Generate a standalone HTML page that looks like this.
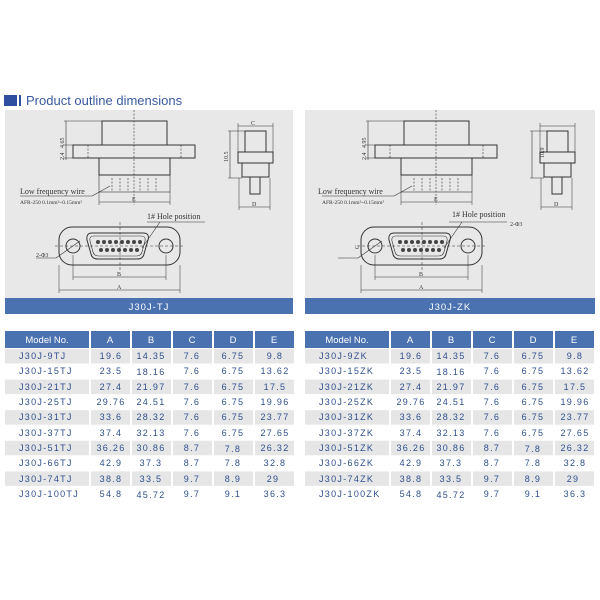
<!DOCTYPE html>
<html><head><meta charset="utf-8"><style>
html,body{margin:0;padding:0;background:#fff;width:600px;height:600px;overflow:hidden}
svg{display:block}
.t{font-family:"Liberation Sans",sans-serif;font-size:9px;fill:#2f4f8f;letter-spacing:1.3px}
.h{font-family:"Liberation Sans",sans-serif;font-size:9.5px;fill:#fff}
.d{font-family:"Liberation Serif",serif;fill:#333}
</style></head><body>
<svg width="600" height="600" viewBox="0 0 600 600" xmlns="http://www.w3.org/2000/svg">
<rect x="4" y="95" width="13" height="11" fill="#2e4fa0"/>
<rect x="19" y="95" width="2" height="11" fill="#2e4fa0"/>
<text x="26" y="105" font-family="Liberation Sans,sans-serif" font-size="13" fill="#3a5aa0">Product outline dimensions</text>

<defs>
<g id="dr" fill="none" stroke="#333" stroke-width="1">
  <rect x="102" y="121" width="65" height="24"/>
  <rect x="73" y="145" width="122" height="13"/>
  <rect x="99" y="158" width="71" height="17"/>
  <rect x="99" y="175" width="71" height="17" stroke-width="0.6"/>
  <g stroke-dasharray="2,1.5" stroke-width="0.6">
    <line x1="134" y1="110" x2="134" y2="205"/>
    <line x1="112" y1="178" x2="112" y2="192"/><line x1="120" y1="178" x2="120" y2="192"/>
    <line x1="128" y1="178" x2="128" y2="192"/><line x1="140" y1="178" x2="140" y2="192"/>
    <line x1="148" y1="178" x2="148" y2="192"/><line x1="156" y1="178" x2="156" y2="192"/>
    <line x1="88" y1="145" x2="88" y2="158"/><line x1="181" y1="145" x2="181" y2="158"/>
  </g>
  <line x1="66" y1="121" x2="66" y2="160" stroke-width="0.6"/>
  <line x1="64" y1="121" x2="102" y2="121" stroke-width="0.5"/>
  <line x1="64" y1="145" x2="73" y2="145" stroke-width="0.5"/>
  <line x1="64" y1="158" x2="73" y2="158" stroke-width="0.5"/>
  <line x1="99" y1="192" x2="99" y2="205" stroke-width="0.5"/>
  <line x1="170" y1="192" x2="170" y2="205" stroke-width="0.5"/>
  <line x1="99" y1="202" x2="170" y2="202" stroke-width="0.6"/>
  <line x1="20" y1="196" x2="92" y2="196" stroke-width="0.6"/>
  <line x1="92" y1="196" x2="110" y2="186" stroke-width="0.6"/>
  <rect x="245" y="131" width="21" height="21"/>
  <rect x="238" y="152" width="35" height="11"/>
  <rect x="242" y="163" width="27" height="14"/>
  <rect x="250" y="177" width="10" height="17"/>
  <line x1="238" y1="126" x2="273" y2="126" stroke-width="0.6"/>
  <line x1="238" y1="123" x2="238" y2="152" stroke-width="0.5"/>
  <line x1="273" y1="123" x2="273" y2="152" stroke-width="0.5"/>
  <line x1="230" y1="131" x2="230" y2="178" stroke-width="0.6"/>
  <line x1="228" y1="131" x2="245" y2="131" stroke-width="0.5"/>
  <line x1="228" y1="178" x2="242" y2="178" stroke-width="0.5"/>
  <line x1="239" y1="207" x2="270" y2="207" stroke-width="0.6"/>
  <line x1="239" y1="178" x2="239" y2="210" stroke-width="0.5"/>
  <line x1="270" y1="178" x2="270" y2="210" stroke-width="0.5"/>
  <rect x="59" y="227" width="121" height="38" rx="13"/>
  <path d="M92 233 H143 Q150 233 148 240 L144 254 Q143 259 137 259 H98 Q92 259 91 254 L87 240 Q86 233 92 233Z"/>
  <path d="M94 236 H141 Q146 236 145 241 L142 252 Q141 256 136 256 H99 Q94 256 93 252 L90 241 Q89 236 94 236Z" stroke-width="0.6"/>
  <circle cx="73" cy="246" r="7"/><circle cx="166" cy="246" r="7"/>
  <line x1="55" y1="246" x2="185" y2="246" stroke-dasharray="3,2" stroke-width="0.5"/>
  <line x1="120" y1="222" x2="120" y2="270" stroke-dasharray="3,2" stroke-width="0.5"/>
  <line x1="73" y1="255" x2="73" y2="280" stroke-width="0.5"/>
  <line x1="166" y1="255" x2="166" y2="280" stroke-width="0.5"/>
  <line x1="73" y1="277" x2="166" y2="277" stroke-width="0.6"/>
  <line x1="59" y1="265" x2="59" y2="293" stroke-width="0.5"/>
  <line x1="180" y1="265" x2="180" y2="293" stroke-width="0.5"/>
  <line x1="59" y1="290" x2="180" y2="290" stroke-width="0.6"/>
  <line x1="36" y1="258" x2="56" y2="258" stroke-width="0.6"/>
  <line x1="56" y1="258" x2="80" y2="241" stroke-width="0.6"/>
  <line x1="147" y1="222" x2="205" y2="222" stroke-width="0.6"/>
  <line x1="160" y1="222" x2="142" y2="248" stroke-width="0.6"/>
  <g fill="#444" stroke="none">
    <circle cx="98" cy="242" r="2"/><circle cx="104" cy="242" r="2"/><circle cx="110" cy="242" r="2"/><circle cx="116" cy="242" r="2"/><circle cx="122" cy="242" r="2"/><circle cx="128" cy="242" r="2"/><circle cx="134" cy="242" r="2"/><circle cx="140" cy="242" r="2"/>
    <circle cx="101" cy="250" r="2"/><circle cx="107" cy="250" r="2"/><circle cx="113" cy="250" r="2"/><circle cx="119" cy="250" r="2"/><circle cx="125" cy="250" r="2"/><circle cx="131" cy="250" r="2"/><circle cx="137" cy="250" r="2"/>
  </g>
</g>
</defs>

<rect x="5" y="110" width="288" height="188" fill="#e8e8e8"/>
<rect x="305" y="110" width="290" height="188" fill="#e8e8e8"/>
<use href="#dr"/>
<use href="#dr" x="302"/>
<g class="d" font-size="6">
<text x="20" y="194" font-size="8">Low frequency wire</text>
<text x="20" y="204" font-size="5.5">AFR-250  0.1mm²~0.15mm²</text>
<text x="147" y="219" font-size="8">1# Hole position</text>
<text x="36" y="257" font-size="6">2-Φ3</text>
<text x="132" y="201">E</text><text x="252" y="206">D</text><text x="251" y="125">C</text>
<text x="117" y="276">B</text><text x="117" y="289">A</text>
<text transform="translate(64,148) rotate(-90)">4.65</text>
<text transform="translate(64,160) rotate(-90)">2.4</text>
<text transform="translate(228,162) rotate(-90)">10.5</text>
<text x="318" y="194" font-size="8">Low frequency wire</text>
<text x="322" y="204" font-size="5.5">AFR-250  0.1mm²~0.15mm²</text>
<text x="452" y="217" font-size="8">1# Hole position</text>
<text x="510" y="226" font-size="6">2-Φ3</text>
<text x="434" y="201">E</text><text x="554" y="206">D</text>
<text x="419" y="276">B</text><text x="419" y="289">A</text>
<text transform="translate(366,148) rotate(-90)">4.95</text>
<text transform="translate(366,160) rotate(-90)">2.4</text>
<text transform="translate(544,158) rotate(-90)">10.9</text>
<text transform="translate(359,249) rotate(-90)">C</text>
</g>
<rect x="5" y="298" width="288" height="16" fill="#4a72b0"/>
<rect x="305" y="298" width="290" height="16" fill="#4a72b0"/>
<text x="149" y="310" text-anchor="middle" class="h" font-size="9.5" letter-spacing="1">J30J-TJ</text>
<text x="450" y="310" text-anchor="middle" class="h" font-size="9.5" letter-spacing="1">J30J-ZK</text>

<g id="tbl">
<g fill="#4a72b0">
<rect x="5" y="331" width="84" height="17"/><rect x="91" y="331" width="39" height="17"/><rect x="132" y="331" width="39" height="17"/><rect x="173" y="331" width="39" height="17"/><rect x="214" y="331" width="39" height="17"/><rect x="255" y="331" width="39" height="17"/>
</g>
<g fill="#e6e6e6">
<rect x="5" y="349" width="289" height="14.5"/><rect x="5" y="379.6" width="289" height="14.5"/><rect x="5" y="410.2" width="289" height="14.5"/><rect x="5" y="440.8" width="289" height="14.5"/><rect x="5" y="471.4" width="289" height="14.5"/>
</g>
<g fill="#fff"><rect x="89" y="349" width="2" height="154"/><rect x="130" y="349" width="2" height="154"/><rect x="171" y="349" width="2" height="154"/><rect x="212" y="349" width="2" height="154"/><rect x="253" y="349" width="2" height="154"/></g>
</g>
<use href="#tbl" x="300"/>

<g class="h" text-anchor="middle">
<text x="47" y="343">Model No.</text><text x="110" y="343">A</text><text x="151" y="343">B</text><text x="192" y="343">C</text><text x="233" y="343">D</text><text x="274" y="343">E</text>
<text x="347" y="343">Model No.</text><text x="410" y="343">A</text><text x="451" y="343">B</text><text x="492" y="343">C</text><text x="533" y="343">D</text><text x="574" y="343">E</text>
</g>
<g class="t">
<text x="19" y="359">J30J-9TJ</text><text x="19" y="374">J30J-15TJ</text><text x="19" y="390">J30J-21TJ</text><text x="19" y="405">J30J-25TJ</text><text x="19" y="420">J30J-31TJ</text><text x="19" y="436">J30J-37TJ</text><text x="19" y="451">J30J-51TJ</text><text x="19" y="466">J30J-66TJ</text><text x="19" y="482">J30J-74TJ</text><text x="19" y="497">J30J-100TJ</text>
<text x="319" y="359">J30J-9ZK</text><text x="319" y="374">J30J-15ZK</text><text x="319" y="390">J30J-21ZK</text><text x="319" y="405">J30J-25ZK</text><text x="319" y="420">J30J-31ZK</text><text x="319" y="436">J30J-37ZK</text><text x="319" y="451">J30J-51ZK</text><text x="319" y="466">J30J-66ZK</text><text x="319" y="482">J30J-74ZK</text><text x="319" y="497">J30J-100ZK</text>
</g>
<g class="t" text-anchor="middle" id="vals">
<text x="111" y="359">19.6</text><text x="151" y="359">14.35</text><text x="192" y="359">7.6</text><text x="233" y="359">6.75</text><text x="275" y="359">9.8</text>
<text x="111" y="374">23.5</text><text x="151" y="375">18.16</text><text x="192" y="374">7.6</text><text x="233" y="374">6.75</text><text x="275" y="374">13.62</text>
<text x="111" y="390">27.4</text><text x="151" y="390">21.97</text><text x="192" y="390">7.6</text><text x="233" y="390">6.75</text><text x="275" y="390">17.5</text>
<text x="111" y="405">29.76</text><text x="151" y="405">24.51</text><text x="192" y="405">7.6</text><text x="233" y="405">6.75</text><text x="275" y="405">19.96</text>
<text x="111" y="420">33.6</text><text x="151" y="420">28.32</text><text x="192" y="420">7.6</text><text x="233" y="420">6.75</text><text x="275" y="420">23.77</text>
<text x="111" y="436">37.4</text><text x="151" y="436">32.13</text><text x="192" y="436">7.6</text><text x="233" y="436">6.75</text><text x="275" y="436">27.65</text>
<text x="111" y="451">36.26</text><text x="151" y="451">30.86</text><text x="192" y="451">8.7</text><text x="233" y="452">7.8</text><text x="275" y="451">26.32</text>
<text x="111" y="466">42.9</text><text x="151" y="466">37.3</text><text x="192" y="466">8.7</text><text x="233" y="466">7.8</text><text x="275" y="466">32.8</text>
<text x="111" y="482">38.8</text><text x="151" y="482">33.5</text><text x="192" y="482">9.7</text><text x="233" y="482">8.9</text><text x="273" y="482">29</text>
<text x="111" y="497">54.8</text><text x="151" y="498">45.72</text><text x="192" y="497">9.7</text><text x="233" y="497">9.1</text><text x="275" y="497">36.3</text>
</g>
<use href="#vals" x="300"/>
</svg>
</body></html>
